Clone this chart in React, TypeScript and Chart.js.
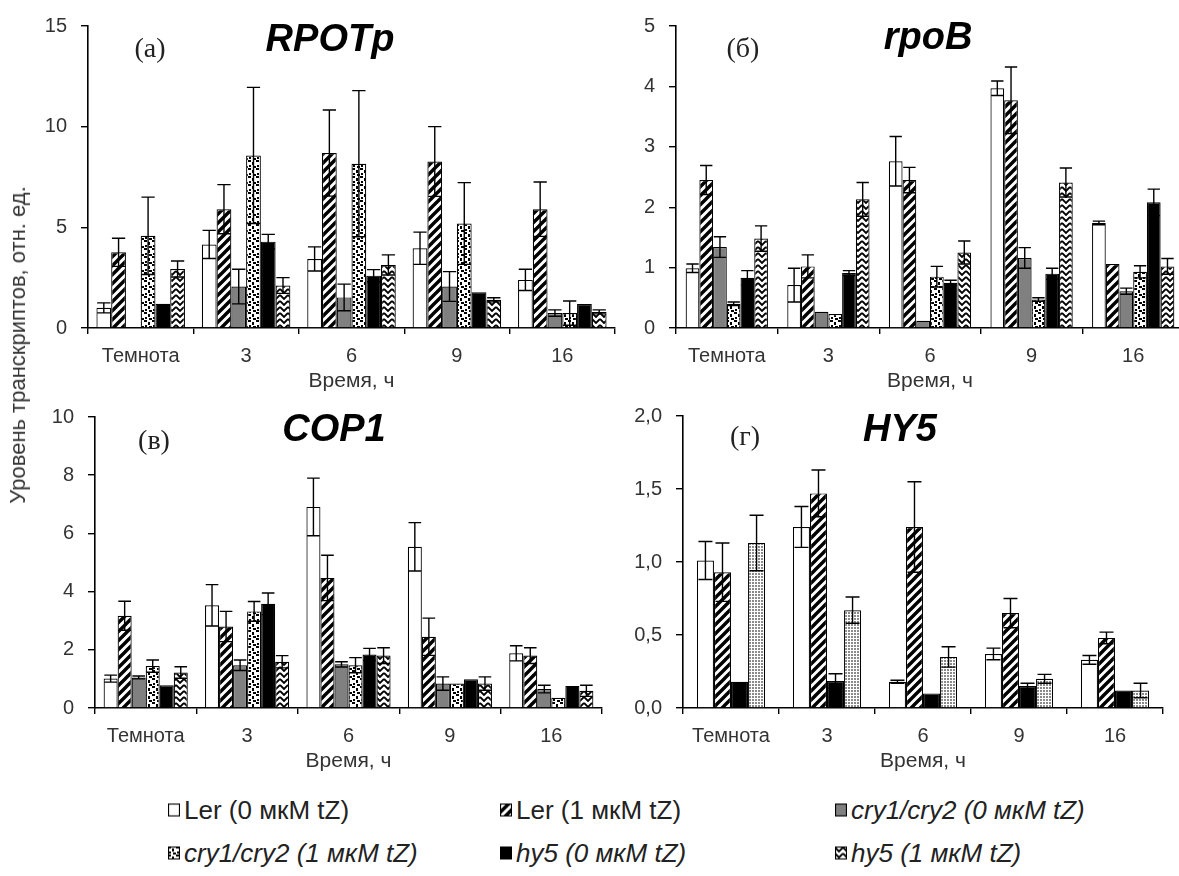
import React, { useEffect, useRef } from "react";
import { Chart, registerables } from "chart.js";
Chart.register(...registerables);

// ---------- data ----------
const categories = ["Темнота", "3", "6", "9", "16"];
const seriesNames = [
  "Ler (0 мкМ tZ)",
  "Ler (1 мкМ tZ)",
  "cry1/cry2 (0 мкМ tZ)",
  "cry1/cry2 (1 мкМ tZ)",
  "hy5 (0 мкМ tZ)",
  "hy5 (1 мкМ tZ)",
];
const xTitle = "Время, ч";
const yTitle = "Уровень транскриптов, отн. ед.";

// (а) RPOTp
const rpotpLer0 = [1.0, 4.15, 3.43, 3.96, 2.39];
const rpotpLer0Err = [0.25, 0.7, 0.6, 0.8, 0.53];
const rpotpLer1 = [3.76, 5.9, 8.69, 8.27, 5.9];
const rpotpLer1Err = [0.7, 1.22, 2.14, 1.73, 1.35];
const rpotpCry0 = [0.04, 2.06, 1.52, 2.06, 0.74];
const rpotpCry0Err = [0, 0.86, 0.66, 0.74, 0.16];
const rpotpCry1 = [4.58, 8.57, 8.16, 5.19, 0.74];
const rpotpCry1Err = [1.92, 3.38, 3.63, 2.03, 0.6];
const rpotpHy0 = [1.2, 4.29, 2.6, 1.78, 1.19];
const rpotpHy0Err = [0, 0.36, 0.3, 0, 0];
const rpotpHy1 = [2.93, 2.11, 3.13, 1.4, 0.8];
const rpotpHy1Err = [0.4, 0.39, 0.5, 0.1, 0.1];
const rpotpTicks = [0, 5, 10, 15];
const rpotpTickLabels = ["0", "5", "10", "15"];

// (б) rpoB
const rpobLer0 = [0.99, 0.71, 2.76, 3.97, 1.74];
const rpobLer0Err = [0.07, 0.28, 0.41, 0.12, 0.03];
const rpobLer1 = [2.45, 1.02, 2.45, 3.77, 1.06];
const rpobLer1Err = [0.24, 0.19, 0.21, 0.55, 0];
const rpobCry0 = [1.34, 0.27, 0.12, 1.16, 0.61];
const rpobCry0Err = [0.17, 0, 0, 0.17, 0.05];
const rpobCry1 = [0.4, 0.23, 0.85, 0.47, 0.93];
const rpobCry1Err = [0.03, 0, 0.17, 0.03, 0.1];
const rpobHy0 = [0.83, 0.91, 0.75, 0.9, 2.08];
const rpobHy0Err = [0.12, 0.04, 0.04, 0.09, 0.22];
const rpobHy1 = [1.48, 2.13, 1.25, 2.41, 1.02];
const rpobHy1Err = [0.21, 0.28, 0.19, 0.24, 0.13];
const rpobTicks = [0, 1, 2, 3, 4, 5];
const rpobTickLabels = ["0", "1", "2", "3", "4", "5"];

// (в) COP1
const cop1Ler0 = [1.01, 3.53, 6.91, 5.54, 1.88];
const cop1Ler0Err = [0.12, 0.71, 0.99, 0.83, 0.26];
const cop1Ler1 = [3.17, 2.8, 4.47, 2.45, 1.8];
const cop1Ler1Err = [0.5, 0.52, 0.78, 0.64, 0.27];
const cop1Cry0 = [1.05, 1.47, 1.5, 0.84, 0.65];
const cop1Cry0Err = [0.05, 0.18, 0.09, 0.23, 0.13];
const cop1Cry1 = [1.44, 3.32, 1.47, 0.84, 0.35];
const cop1Cry1Err = [0.21, 0.34, 0.26, 0, 0];
const cop1Hy0 = [0.78, 3.58, 1.84, 0.99, 0.76];
const cop1Hy0Err = [0, 0.37, 0.21, 0, 0];
const cop1Hy1 = [1.22, 1.59, 1.8, 0.84, 0.59];
const cop1Hy1Err = [0.2, 0.21, 0.27, 0.23, 0.19];
const cop1Ticks = [0, 2, 4, 6, 8, 10];
const cop1TickLabels = ["0", "2", "4", "6", "8", "10"];

// (г) HY5
const hy5Ler0 = [1.01, 1.24, 0.18, 0.37, 0.33];
const hy5Ler0Err = [0.13, 0.14, 0.01, 0.04, 0.03];
const hy5Ler1 = [0.93, 1.47, 1.24, 0.65, 0.48];
const hy5Ler1Err = [0.2, 0.16, 0.31, 0.1, 0.04];
const hy5Hy0 = [0.18, 0.185, 0.1, 0.15, 0.12];
const hy5Hy0Err = [0, 0.05, 0, 0.02, 0];
const hy5Dot = [1.13, 0.67, 0.35, 0.2, 0.12];
const hy5DotErr = [0.19, 0.09, 0.07, 0.03, 0.05];
const hy5Ticks = [0, 0.5, 1, 1.5, 2];
const hy5TickLabels = ["0,0", "0,5", "1,0", "1,5", "2,0"];

// ---------- patterns ----------
type PatKind = "white" | "diag" | "grey" | "dots" | "black" | "zigzag" | "fine";

function tile(w: number, h: number, draw: (c: CanvasRenderingContext2D) => void) {
  const cv = document.createElement("canvas");
  cv.width = w;
  cv.height = h;
  const c = cv.getContext("2d")!;
  c.fillStyle = "#fff";
  c.fillRect(0, 0, w, h);
  draw(c);
  return cv;
}

function makeFill(ctx: CanvasRenderingContext2D, kind: PatKind): any {
  if (kind === "white") return "#ffffff";
  if (kind === "grey") return "#808080";
  if (kind === "black") return "#000000";
  let cv: HTMLCanvasElement;
  if (kind === "diag") {
    cv = tile(9, 9, (c) => {
      c.strokeStyle = "#000";
      c.lineWidth = 3.4;
      c.beginPath();
      c.moveTo(-2, 11);
      c.lineTo(11, -2);
      c.moveTo(-2, 2);
      c.lineTo(2, -2);
      c.moveTo(7, 11);
      c.lineTo(11, 7);
      c.stroke();
    });
  } else if (kind === "dots") {
    cv = tile(8, 8, (c) => {
      c.fillStyle = "#000";
      c.fillRect(0, 0, 3, 2);
      c.fillRect(4, 2, 2, 3);
      c.fillRect(1, 5, 2, 2);
      c.fillRect(5, 6, 3, 2);
    });
  } else if (kind === "zigzag") {
    cv = tile(8, 6, (c) => {
      c.strokeStyle = "#000";
      c.lineWidth = 1.8;
      c.beginPath();
      c.moveTo(0, 1);
      c.lineTo(4, 5);
      c.lineTo(8, 1);
      c.stroke();
    });
  } else {
    cv = tile(3, 3, (c) => {
      c.fillStyle = "#8a8a8a";
      c.fillRect(0, 0, 2, 2);
    });
  }
  return ctx.createPattern(cv, "repeat");
}

// ---------- error bars ----------
const errorBarPlugin = {
  id: "errorBars",
  afterDatasetsDraw(chart: any) {
    const ctx = chart.ctx;
    const ys = chart.scales.y;
    chart.data.datasets.forEach((ds: any, di: number) => {
      const errs: number[] = ds.errs;
      if (!errs) return;
      const meta = chart.getDatasetMeta(di);
      meta.data.forEach((bar: any, i: number) => {
        const e = errs[i];
        if (!e) return;
        const v = ds.data[i];
        const { x, width } = bar.getProps(["x", "width"], true);
        const top = ys.getPixelForValue(v + e);
        const bot = ys.getPixelForValue(Math.max(0, v - e));
        const half = Math.min(width * 0.45, 7);
        ctx.save();
        ctx.strokeStyle = "#000";
        ctx.lineWidth = 1.4;
        ctx.beginPath();
        ctx.moveTo(x, top);
        ctx.lineTo(x, bot);
        ctx.moveTo(x - half, top);
        ctx.lineTo(x + half, top);
        ctx.moveTo(x - half, bot);
        ctx.lineTo(x + half, bot);
        ctx.stroke();
        ctx.restore();
      });
    });
  },
};

const SANS = "'Liberation Sans', Arial, sans-serif";
const TEXT = "#333";

type Series = { name: string; values: number[]; errs: number[]; kind: PatKind };
type PanelSpec = {
  left: number;
  top: number;
  width: number;
  height: number;
  areaLeft: number;
  areaRight: number;
  areaTop: number;
  areaBottom: number;
  max: number;
  ticks: number[];
  tickLabels: string[];
  catPct: number;
  series: Series[];
};

const X_AXIS_H = 70;

function Panel({ spec }: { spec: PanelSpec }) {
  const ref = useRef<HTMLCanvasElement>(null);
  useEffect(() => {
    const canvas = ref.current!;
    const ctx = canvas.getContext("2d")!;
    const chart = new Chart(ctx, {
      type: "bar",
      data: {
        labels: categories,
        datasets: spec.series.map((s) => ({
          label: s.name,
          data: s.values,
          errs: s.errs,
          backgroundColor: makeFill(ctx, s.kind),
          borderColor: "#000",
          borderWidth: 1.2,
          barPercentage: 1,
          categoryPercentage: spec.catPct,
        })) as any,
      },
      options: {
        animation: false,
        responsive: false,
        maintainAspectRatio: false,
        events: [],
        layout: {
          padding: {
            left: 0,
            top: spec.areaTop,
            right: spec.width - spec.areaRight,
            bottom: spec.height - spec.areaBottom - X_AXIS_H,
          },
        },
        plugins: { legend: { display: false }, tooltip: { enabled: false } },
        scales: {
          x: {
            grid: {
              display: true,
              drawOnChartArea: false,
              drawTicks: true,
              tickLength: 6,
              color: "#000",
              lineWidth: 1.4,
              offset: true,
            },
            border: { display: true, color: "#000", width: 1.6 },
            ticks: { font: { family: SANS, size: 20 }, color: TEXT, padding: 10, maxRotation: 0, autoSkip: false },
            title: { display: true, text: xTitle, font: { family: SANS, size: 21 }, color: TEXT },
            afterFit: (s: any) => {
              s.height = X_AXIS_H;
            },
          },
          y: {
            min: 0,
            max: spec.max,
            afterBuildTicks: (s: any) => {
              s.ticks = spec.ticks.map((v) => ({ value: v }));
            },
            ticks: {
              font: { family: SANS, size: 20 },
              color: TEXT,
              padding: 14,
              callback: (_v: any, i: number) => spec.tickLabels[i],
            },
            grid: { drawOnChartArea: false, drawTicks: true, tickLength: 7, color: "#000", lineWidth: 1.4 },
            border: { display: true, color: "#000", width: 1.6 },
            afterFit: (s: any) => {
              s.width = spec.areaLeft;
            },
          },
        } as any,
      },
      plugins: [errorBarPlugin],
    } as any);
    return () => chart.destroy();
  }, [spec]);
  return (
    <canvas
      ref={ref}
      width={spec.width}
      height={spec.height}
      style={{ position: "absolute", left: spec.left, top: spec.top, width: spec.width, height: spec.height }}
    />
  );
}

const kinds6: PatKind[] = ["white", "diag", "grey", "dots", "black", "zigzag"];
function six(vals: number[][], errs: number[][]): Series[] {
  return vals.map((v, i) => ({ name: seriesNames[i], values: v, errs: errs[i], kind: kinds6[i] }));
}

const panels: PanelSpec[] = [
  {
    left: 0, top: 0, width: 630, height: 400,
    areaLeft: 88, areaRight: 615, areaTop: 25, areaBottom: 328,
    max: 15, ticks: rpotpTicks, tickLabels: rpotpTickLabels, catPct: 0.84,
    series: six(
      [rpotpLer0, rpotpLer1, rpotpCry0, rpotpCry1, rpotpHy0, rpotpHy1],
      [rpotpLer0Err, rpotpLer1Err, rpotpCry0Err, rpotpCry1Err, rpotpHy0Err, rpotpHy1Err]
    ),
  },
  {
    left: 590, top: 0, width: 600, height: 400,
    areaLeft: 86, areaRight: 594, areaTop: 25, areaBottom: 328,
    max: 5, ticks: rpobTicks, tickLabels: rpobTickLabels, catPct: 0.81,
    series: six(
      [rpobLer0, rpobLer1, rpobCry0, rpobCry1, rpobHy0, rpobHy1],
      [rpobLer0Err, rpobLer1Err, rpobCry0Err, rpobCry1Err, rpobHy0Err, rpobHy1Err]
    ),
  },
  {
    left: 0, top: 390, width: 630, height: 400,
    areaLeft: 95, areaRight: 602, areaTop: 27, areaBottom: 318,
    max: 10, ticks: cop1Ticks, tickLabels: cop1TickLabels, catPct: 0.83,
    series: six(
      [cop1Ler0, cop1Ler1, cop1Cry0, cop1Cry1, cop1Hy0, cop1Hy1],
      [cop1Ler0Err, cop1Ler1Err, cop1Cry0Err, cop1Cry1Err, cop1Hy0Err, cop1Hy1Err]
    ),
  },
  {
    left: 590, top: 390, width: 589, height: 400,
    areaLeft: 93, areaRight: 573, areaTop: 26, areaBottom: 318,
    max: 2, ticks: hy5Ticks, tickLabels: hy5TickLabels, catPct: 0.71,
    series: [
      { name: seriesNames[0], values: hy5Ler0, errs: hy5Ler0Err, kind: "white" },
      { name: seriesNames[1], values: hy5Ler1, errs: hy5Ler1Err, kind: "diag" },
      { name: seriesNames[4], values: hy5Hy0, errs: hy5Hy0Err, kind: "black" },
      { name: seriesNames[3], values: hy5Dot, errs: hy5DotErr, kind: "fine" },
    ],
  },
];

const geneTitles = [
  { text: "RPOTp", x: 330, y: 38 },
  { text: "rpoB", x: 928, y: 36 },
  { text: "COP1", x: 334, y: 428 },
  { text: "HY5", x: 900, y: 428 },
];
const panelLetters = [
  { text: "(а)", x: 150, y: 48 },
  { text: "(б)", x: 743, y: 48 },
  { text: "(в)", x: 154, y: 440 },
  { text: "(г)", x: 745, y: 436 },
];

const legendKinds: PatKind[] = ["white", "diag", "grey", "dots", "black", "zigzag"];
const legendItalic = [false, false, true, true, true, true];
const legendX = [168, 500, 835];
const legendY = [810, 853];

function Swatch({ kind }: { kind: PatKind }) {
  const ref = useRef<HTMLCanvasElement>(null);
  useEffect(() => {
    const c = ref.current!.getContext("2d")!;
    c.clearRect(0, 0, 12, 13);
    c.fillStyle = makeFill(c, kind);
    c.fillRect(0.5, 0.5, 11, 12);
    c.strokeStyle = "#000";
    c.lineWidth = 1.2;
    c.strokeRect(0.5, 0.5, 11, 12);
  }, [kind]);
  return <canvas ref={ref} width={12} height={13} style={{ display: "block" }} />;
}

export default function App() {
  return (
    <div
      style={{
        position: "fixed",
        left: 0,
        top: 0,
        width: 1179,
        height: 876,
        overflow: "hidden",
        background: "#fff",
      }}
    >
      {panels.map((p, i) => (
        <Panel key={i} spec={p} />
      ))}
      {geneTitles.map((t, i) => (
        <div
          key={"g" + i}
          style={{
            position: "absolute",
            left: t.x,
            top: t.y,
            transform: "translate(-50%, -50%)",
            font: `italic bold 38px ${SANS}`,
            color: "#000",
            whiteSpace: "nowrap",
          }}
        >
          {t.text}
        </div>
      ))}
      {panelLetters.map((t, i) => (
        <div
          key={"l" + i}
          style={{
            position: "absolute",
            left: t.x,
            top: t.y,
            transform: "translate(-50%, -50%)",
            font: `28px 'Liberation Serif', 'Times New Roman', serif`,
            color: "#222",
            whiteSpace: "nowrap",
          }}
        >
          {t.text}
        </div>
      ))}
      <div
        style={{
          position: "absolute",
          left: 18,
          top: 345,
          transform: "translate(-50%, -50%) rotate(-90deg)",
          font: `22px ${SANS}`,
          color: TEXT,
          whiteSpace: "nowrap",
        }}
      >
        {yTitle}
      </div>
      {seriesNames.map((name, i) => (
        <div
          key={"lg" + i}
          style={{
            position: "absolute",
            left: legendX[i % 3],
            top: legendY[Math.floor(i / 3)],
            transform: "translateY(-50%)",
            display: "flex",
            alignItems: "center",
            gap: 4,
            font: `${legendItalic[i] ? "italic " : ""}26px ${SANS}`,
            color: "#222",
            whiteSpace: "nowrap",
          }}
        >
          <Swatch kind={legendKinds[i]} />
          <span>{name}</span>
        </div>
      ))}
    </div>
  );
}
